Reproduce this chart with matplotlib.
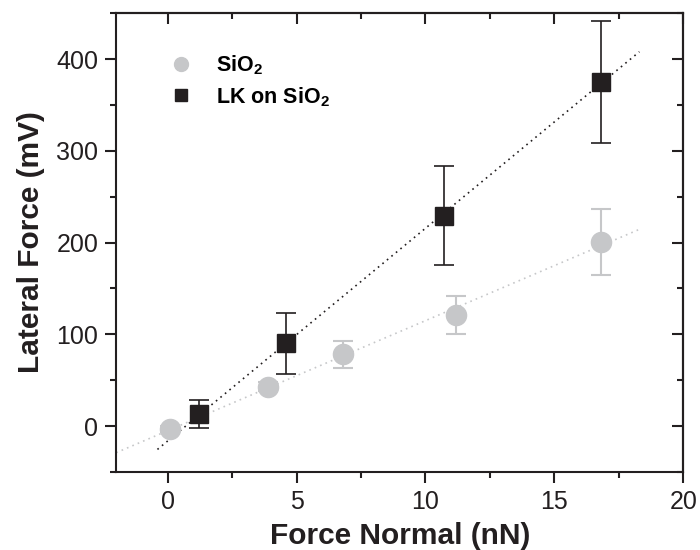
import numpy as np
import matplotlib.pyplot as plt
from matplotlib.lines import Line2D
from matplotlib.ticker import MultipleLocator, NullFormatter

plt.rcParams['font.family'] = ['Liberation Sans', 'DejaVu Sans']
plt.rcParams['mathtext.fontset'] = 'custom'
plt.rcParams['mathtext.rm'] = 'Liberation Sans:bold'
plt.rcParams['mathtext.bf'] = 'Liberation Sans:bold'

# SiO2 data (grey circles)
sio2_x = [0.1, 3.9, 6.8, 11.2, 16.8]
sio2_y = [-3, 43, 78, 121, 201]
sio2_err = [3, 5, 15, 21, 36]

# LK on SiO2 data (black squares)
lk_x = [1.2, 4.6, 10.7, 16.8]
lk_y = [13, 90, 229, 375]
lk_err = [15, 33, 54, 67]

grey = "#c6c7c9"
black = "#231f20"

fig = plt.figure(figsize=(7, 5.5), dpi=100)
ax = fig.add_axes([0.166, 0.142, 0.81, 0.834])

# linear fits
p_sio2 = np.polyfit(sio2_x, sio2_y, 1)
p_lk = np.polyfit(lk_x, lk_y, 1)
xs = np.array([-2, 18.4])
ax.plot(xs, np.polyval(p_sio2, xs), ls=(0, (1, 2.5)), color=grey, lw=1.2, zorder=1)
xl = np.array([-0.4, 18.3])
ax.plot(xl, np.polyval(p_lk, xl), ls=(0, (1, 2.5)), color=black, lw=1.2, zorder=1)

ax.errorbar(sio2_x, sio2_y, yerr=sio2_err, fmt='o', ms=14.5, color=grey,
            ecolor=grey, elinewidth=1.5, capsize=7, capthick=1.5, zorder=2)
ax.errorbar(lk_x, lk_y, yerr=lk_err, fmt='s', ms=13, color=black,
            ecolor=black, elinewidth=1.2, capsize=7, capthick=1.2, zorder=3)

ax.set_xlim(-2, 20)
ax.set_ylim(-50, 450)
ax.xaxis.set_major_locator(MultipleLocator(5))
ax.xaxis.set_minor_locator(MultipleLocator(2.5))
ax.set_yticks([0, 100, 200, 300, 400])
ax.yaxis.set_minor_locator(MultipleLocator(50))

ax.tick_params(axis='both', which='major', direction='out', length=8, width=1.5,
               labelsize=18, colors=black, labelcolor=black, pad=5)
ax.tick_params(axis='both', which='minor', direction='out', length=4.5, width=1.5,
               colors=black)
for s in ax.spines.values():
    s.set_linewidth(1.5)
    s.set_color(black)

# inward ticks on top and right, no labels
top = ax.secondary_xaxis('top')
top.xaxis.set_major_locator(MultipleLocator(5))
top.xaxis.set_minor_locator(MultipleLocator(2.5))
top.xaxis.set_major_formatter(NullFormatter())
top.tick_params(which='major', direction='in', length=8, width=1.5, colors=black)
top.tick_params(which='minor', direction='in', length=4.5, width=1.5, colors=black)
top.spines['top'].set_linewidth(1.5)

right = ax.secondary_yaxis('right')
right.set_yticks([0, 100, 200, 300, 400])
right.yaxis.set_minor_locator(MultipleLocator(50))
right.yaxis.set_major_formatter(NullFormatter())
right.tick_params(which='major', direction='in', length=8, width=1.5, colors=black)
right.tick_params(which='minor', direction='in', length=4.5, width=1.5, colors=black)
right.spines['right'].set_linewidth(1.5)

ax.set_xlabel('Force Normal (nN)', fontsize=21.5, fontweight='bold', color=black, labelpad=6)
ax.set_ylabel('Lateral Force (mV)', fontsize=21.5, fontweight='bold', color=black, labelpad=8)

handles = [Line2D([], [], ls='none', marker='o', ms=10, color=grey),
           Line2D([], [], ls='none', marker='s', ms=8.5, color=black)]
ax.legend(handles, [r'SiO$_2$', r'LK on SiO$_2$'], loc='upper left',
          bbox_to_anchor=(0.055, 0.955), frameon=False,
          prop={'weight': 'bold', 'size': 15.5}, handletextpad=1.0,
          labelspacing=0.38, handlelength=1.3)

fig.savefig('out.png', dpi=100)
